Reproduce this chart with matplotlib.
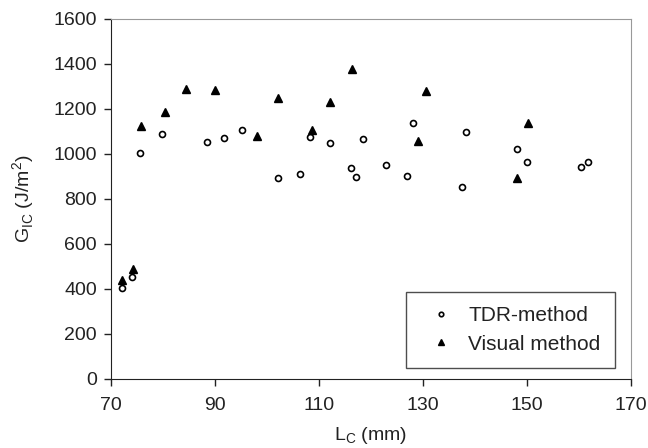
import matplotlib.pyplot as plt

plt.rcParams['font.family'] = ['Liberation Sans', 'DejaVu Sans']

# TDR-method points
tdr_x = [72.2, 74.1, 75.7, 79.8, 88.5, 91.8, 95.3, 102.1, 106.3, 108.3, 112.1, 116.1, 117.2,
         118.5, 122.9, 126.9, 128.1, 137.4, 138.2, 148.0, 150.0, 160.3, 161.8]
tdr_y = [404, 453, 1001, 1089, 1053, 1071, 1107, 893, 908, 1076, 1049, 938, 898,
         1067, 950, 903, 1135, 852, 1095, 1019, 961, 939, 961]

# Visual method points
vis_x = [72.2, 74.3, 75.8, 80.4, 84.4, 90.1, 98.1, 102.2, 108.7, 112.2, 116.3, 129.1,
         130.6, 148.1, 150.1]
vis_y = [439, 486, 1125, 1184, 1288, 1282, 1077, 1246, 1104, 1232, 1375, 1057,
         1278, 893, 1137]

fig = plt.figure(figsize=(6.48, 4.48), dpi=100)
ax = fig.add_axes([0.171, 0.155, 0.803, 0.803])

ax.plot(tdr_x, tdr_y, linestyle='none', marker='o', markersize=4.3,
        markerfacecolor='white', markeredgecolor='black', markeredgewidth=1.2,
        label='TDR-method')
ax.plot(vis_x, vis_y, linestyle='none', marker='^', markersize=6.2,
        color='black', label='Visual method')

ax.set_xlim(70, 170)
ax.set_ylim(0, 1600)
ax.set_xticks(range(70, 171, 20))
ax.set_yticks(range(0, 1601, 200))
ax.tick_params(direction='out', length=5, width=1, labelsize=14, pad=5,
               colors='#222222')
ax.tick_params(axis='x', pad=8)

for s in ['top', 'right']:
    ax.spines[s].set_color('#999999')
for s in ['left', 'bottom']:
    ax.spines[s].set_color('#222222')

ax.set_xlabel('L$_\\mathregular{C}$ (mm)', fontsize=14, color='#222222', labelpad=8)
ax.set_ylabel('G$_\\mathregular{IC}$ (J/m$^\\mathregular{2}$)', fontsize=14,
              color='#222222', labelpad=12)

leg = ax.legend(loc='lower right', bbox_to_anchor=(0.969, 0.029), borderaxespad=0,
                fontsize=15, markerscale=0.75, frameon=True, fancybox=False,
                edgecolor='#222222', handletextpad=0.3, handlelength=2.0,
                labelspacing=0.45, borderpad=0.7)
leg.get_frame().set_linewidth(1)
for t in leg.get_texts():
    t.set_color('#222222')

plt.savefig('out.png', dpi=100)
